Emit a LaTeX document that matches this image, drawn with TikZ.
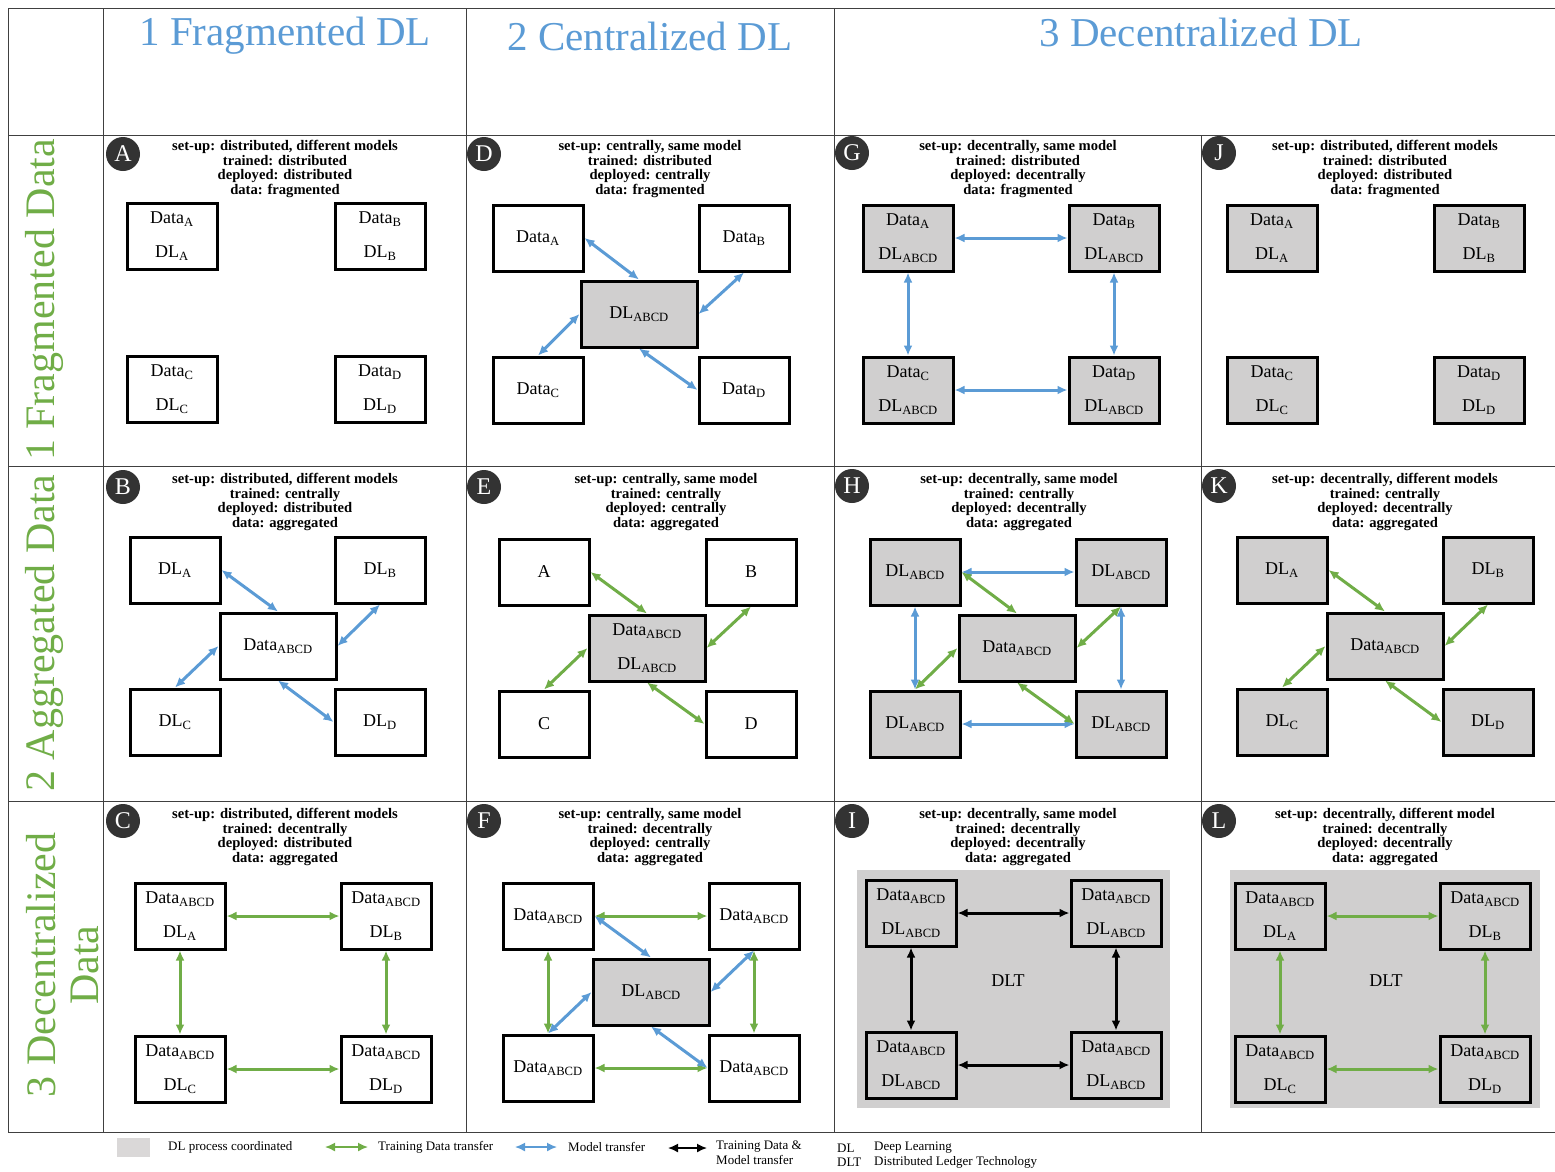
\documentclass[tikz,border=0pt]{standalone}
\usepackage{fontspec}
\setmainfont{Liberation Serif}
\usetikzlibrary{arrows.meta,positioning,calc}
\definecolor{hdrblue}{RGB}{91,155,213}
\definecolor{rowgreen}{RGB}{112,173,71}
\definecolor{boxgray}{RGB}{208,207,207}
\definecolor{tagdark}{RGB}{51,51,51}
\newcommand{\sbs}[1]{\textsubscript{#1}}
\tikzset{grid/.style={black!75,line width=1pt},
hdr/.style={text=hdrblue,font=\fontsize{41}{44}\selectfont,inner sep=0pt},
rowlab/.style={text=rowgreen,font=\fontsize{42}{43}\selectfont,rotate=90,inner sep=0pt,align=center},
desc/.style={anchor=north,font=\bfseries\fontsize{14.6}{14.7}\selectfont,align=center,inner sep=0pt},
tag/.style={circle,fill=tagdark,text=white,minimum size=34pt,inner sep=0pt,font=\fontsize{24}{24}\selectfont},
box/.style={draw,line width=3pt,fill=white,minimum width=90pt,minimum height=66pt,align=center,inner sep=0pt,font=\fontsize{18}{34}\selectfont},
graybox/.style={box,fill=boxgray},
bigbox/.style={box,minimum width=116pt},
biggray/.style={graybox,minimum width=116pt},
dlt/.style={fill=boxgray,draw=none},
mtr/.style={draw=hdrblue,line width=3pt,{Latex[length=10pt,width=9pt]}-{Latex[length=10pt,width=9pt]}},
dtr/.style={draw=rowgreen,line width=3pt,{Latex[length=10pt,width=9pt]}-{Latex[length=10pt,width=9pt]}},
btr/.style={draw=black,line width=3pt,{Latex[length=10pt,width=9pt]}-{Latex[length=10pt,width=9pt]}},
legtxt/.style={anchor=west,inner sep=0pt,font=\fontsize{13}{15}\selectfont,align=left}}

\begin{document}
\begin{tikzpicture}[x=1pt,y=-1pt]
\useasboundingbox (0,0) rectangle (1555,1171);

% Table
\draw[grid] (8,8) -- (1555,8);
\foreach \y in {135,466,801,1132} \draw[grid] (8,\y) -- (1555,\y);
\foreach \x in {8,103,466,834} \draw[grid] (\x,8) -- (\x,1132);
\draw[grid] (1201,135) -- (1201,1132);

% Headers
\node[hdr] (h1) at (285,36) {1 Fragmented DL};
\node[hdr] (h2) at (650,36) {2 Centralized DL};
\node[hdr] (h3) at (1201,32) {3 Decentralized DL};
\node[rowlab] (r1) at (44,300) {1 Fragmented Data};
\node[rowlab] (r2) at (44,633) {2 Aggregated Data};
\node[rowlab] (r3) at (63,965) {3 Decentralized\\Data};

% Tags
\node[tag] (pA) at (123,154) {A};
\node[tag] (pD) at (484,154) {D};
\node[tag] (pG) at (852,153) {G};
\node[tag] (pJ) at (1219,153) {J};
\node[tag] (pB) at (123,487) {B};
\node[tag] (pE) at (484,487) {E};
\node[tag] (pH) at (852,486) {H};
\node[tag] (pK) at (1219,486) {K};
\node[tag] (pC) at (123,821) {C};
\node[tag] (pF) at (484,821) {F};
\node[tag] (pI) at (852,821) {I};
\node[tag] (pL) at (1219,821) {L};

% Descriptions
\node[desc] (tA) at (285,140) {set-up: distributed, different models\\trained: distributed\\deployed: distributed\\data: fragmented};
\node[desc] (tD) at (650,140) {set-up: centrally, same model\\trained: distributed\\deployed: centrally\\data: fragmented};
\node[desc] (tG) at (1018,140) {set-up: decentrally, same model\\trained: distributed\\deployed: decentrally\\data: fragmented};
\node[desc] (tJ) at (1385,140) {set-up: distributed, different models\\trained: distributed\\deployed: distributed\\data: fragmented};
\node[desc] (tB) at (285,473) {set-up: distributed, different models\\trained: centrally\\deployed: distributed\\data: aggregated};
\node[desc] (tE) at (666,473) {set-up: centrally, same model\\trained: centrally\\deployed: centrally\\data: aggregated};
\node[desc] (tH) at (1019,473) {set-up: decentrally, same model\\trained: centrally\\deployed: decentrally\\data: aggregated};
\node[desc] (tK) at (1385,473) {set-up: decentrally, different models\\trained: centrally\\deployed: decentrally\\data: aggregated};
\node[desc] (tC) at (285,808) {set-up: distributed, different models\\trained: decentrally\\deployed: distributed\\data: aggregated};
\node[desc] (tF) at (650,808) {set-up: centrally, same model\\trained: decentrally\\deployed: centrally\\data: aggregated};
\node[desc] (tI) at (1018,808) {set-up: decentrally, same model\\trained: decentrally\\deployed: decentrally\\data: aggregated};
\node[desc] (tL) at (1385,808) {set-up: decentrally, different model\\trained: decentrally\\deployed: decentrally\\data: aggregated};

% A: fragmented DL, fragmented data
\node[box] (aA) at (172,236) {Data\sbs{A}\\DL\sbs{A}};
\node[box] (aB) at (380,236) {Data\sbs{B}\\DL\sbs{B}};
\node[box] (aC) at (172,389) {Data\sbs{C}\\DL\sbs{C}};
\node[box] (aD) at (380,389) {Data\sbs{D}\\DL\sbs{D}};

% D
\node[box] (dA) at (538,238) {Data\sbs{A}};
\node[box] (dB) at (744,238) {Data\sbs{B}};
\node[box] (dC) at (538,390) {Data\sbs{C}};
\node[box] (dD) at (744,390) {Data\sbs{D}};
\node[biggray] (dM) at (639,314) {DL\sbs{ABCD}};
\draw[mtr] (dA.east) -- (dM.north);
\draw[mtr] (dB.south) -- (dM.east);
\draw[mtr] (dC.north) -- (dM.west);
\draw[mtr] (dM.south) -- (dD.west);

% G
\node[graybox] (gA) at (908,238) {Data\sbs{A}\\DL\sbs{ABCD}};
\node[graybox] (gB) at (1114,238) {Data\sbs{B}\\DL\sbs{ABCD}};
\node[graybox] (gC) at (908,390) {Data\sbs{C}\\DL\sbs{ABCD}};
\node[graybox] (gD) at (1114,390) {Data\sbs{D}\\DL\sbs{ABCD}};
\draw[mtr] (gA) -- (gB);
\draw[mtr] (gC) -- (gD);
\draw[mtr] (gA) -- (gC);
\draw[mtr] (gB) -- (gD);

% J
\node[graybox] (jA) at (1272,238) {Data\sbs{A}\\DL\sbs{A}};
\node[graybox] (jB) at (1479,238) {Data\sbs{B}\\DL\sbs{B}};
\node[graybox] (jC) at (1272,390) {Data\sbs{C}\\DL\sbs{C}};
\node[graybox] (jD) at (1479,390) {Data\sbs{D}\\DL\sbs{D}};

% B
\node[box] (bA) at (175,570) {DL\sbs{A}};
\node[box] (bB) at (380,570) {DL\sbs{B}};
\node[box] (bC) at (175,722) {DL\sbs{C}};
\node[box] (bD) at (380,722) {DL\sbs{D}};
\node[bigbox] (bM) at (278,646) {Data\sbs{ABCD}};
\draw[mtr] (bA.east) -- (bM.north);
\draw[mtr] (bB.south) -- (bM.east);
\draw[mtr] (bC.north) -- (bM.west);
\draw[mtr] (bM.south) -- (bD.west);

% E
\node[box] (eA) at (544,572) {A};
\node[box] (eB) at (751,572) {B};
\node[box] (eC) at (544,724) {C};
\node[box] (eD) at (751,724) {D};
\node[biggray] (eM) at (647,648) {Data\sbs{ABCD}\\DL\sbs{ABCD}};
\draw[dtr] (eA.east) -- (eM.north);
\draw[dtr] (eB.south) -- (eM.east);
\draw[dtr] (eC.north) -- (eM.west);
\draw[dtr] (eM.south) -- (eD.west);

% H
\node[graybox] (hA) at (915,572) {DL\sbs{ABCD}};
\node[graybox] (hB) at (1121,572) {DL\sbs{ABCD}};
\node[graybox] (hC) at (915,724) {DL\sbs{ABCD}};
\node[graybox] (hD) at (1121,724) {DL\sbs{ABCD}};
\node[biggray] (hM) at (1017,648) {Data\sbs{ABCD}};
\draw[mtr] (hA) -- (hB);
\draw[mtr] (hC) -- (hD);
\draw[mtr] (hA) -- (hC);
\draw[mtr] (hB) -- (hD);
\draw[dtr] (hA.east) -- (hM.north);
\draw[dtr] (hB.south) -- (hM.east);
\draw[dtr] (hC.north) -- (hM.west);
\draw[dtr] (hM.south) -- (hD.west);

% K
\node[graybox] (kA) at (1282,570) {DL\sbs{A}};
\node[graybox] (kB) at (1488,570) {DL\sbs{B}};
\node[graybox] (kC) at (1282,722) {DL\sbs{C}};
\node[graybox] (kD) at (1488,722) {DL\sbs{D}};
\node[biggray] (kM) at (1385,646) {Data\sbs{ABCD}};
\draw[dtr] (kA.east) -- (kM.north);
\draw[dtr] (kB.south) -- (kM.east);
\draw[dtr] (kC.north) -- (kM.west);
\draw[dtr] (kM.south) -- (kD.west);

% C
\node[box] (cA) at (180,916) {Data\sbs{ABCD}\\DL\sbs{A}};
\node[box] (cB) at (386,916) {Data\sbs{ABCD}\\DL\sbs{B}};
\node[box] (cC) at (180,1069) {Data\sbs{ABCD}\\DL\sbs{C}};
\node[box] (cD) at (386,1069) {Data\sbs{ABCD}\\DL\sbs{D}};
\draw[dtr] (cA) -- (cB);
\draw[dtr] (cC) -- (cD);
\draw[dtr] (cA) -- (cC);
\draw[dtr] (cB) -- (cD);

% F
\node[box] (fA) at (548,916) {Data\sbs{ABCD}};
\node[box] (fB) at (754,916) {Data\sbs{ABCD}};
\node[box] (fC) at (548,1068) {Data\sbs{ABCD}};
\node[box] (fD) at (754,1068) {Data\sbs{ABCD}};
\node[biggray] (fM) at (651,992) {DL\sbs{ABCD}};
\draw[dtr] (fA) -- (fB);
\draw[dtr] (fC) -- (fD);
\draw[dtr] (fA) -- (fC);
\draw[dtr] (fB) -- (fD);
\draw[mtr] (fA.east) -- (fM.north);
\draw[mtr] (fB.south) -- (fM.east);
\draw[mtr] (fC.north) -- (fM.west);
\draw[mtr] (fM.south) -- (fD.west);

% I
\fill[dlt] (857,870) rectangle (1170,1108);
\node[graybox] (iA) at (911,913) {Data\sbs{ABCD}\\DL\sbs{ABCD}};
\node[graybox] (iB) at (1116,913) {Data\sbs{ABCD}\\DL\sbs{ABCD}};
\node[graybox] (iC) at (911,1065) {Data\sbs{ABCD}\\DL\sbs{ABCD}};
\node[graybox] (iD) at (1116,1065) {Data\sbs{ABCD}\\DL\sbs{ABCD}};
\node[font=\fontsize{18}{20}\selectfont] (iT) at (1008,981) {DLT};
\draw[btr] (iA) -- (iB);
\draw[btr] (iC) -- (iD);
\draw[btr] (iA) -- (iC);
\draw[btr] (iB) -- (iD);

% L
\fill[dlt] (1230,870) rectangle (1540,1108);
\node[graybox] (lA) at (1280,916) {Data\sbs{ABCD}\\DL\sbs{A}};
\node[graybox] (lB) at (1485,916) {Data\sbs{ABCD}\\DL\sbs{B}};
\node[graybox] (lC) at (1280,1069) {Data\sbs{ABCD}\\DL\sbs{C}};
\node[graybox] (lD) at (1485,1069) {Data\sbs{ABCD}\\DL\sbs{D}};
\node[font=\fontsize{18}{20}\selectfont] (lT) at (1386,981) {DLT};
\draw[dtr] (lA) -- (lB);
\draw[dtr] (lC) -- (lD);
\draw[dtr] (lA) -- (lC);
\draw[dtr] (lB) -- (lD);

% Legend
\fill[boxgray!80] (117,1138) rectangle (150,1157);
\node[legtxt] (g1) at (168,1147) {DL process coordinated};
\coordinate (g2s) at (325,1147); \coordinate (g2e) at (368,1147);
\draw[dtr,line width=1.6pt] (g2s) -- (g2e);
\node[legtxt] (g2) at (378,1147) {Training Data transfer};
\coordinate (g3s) at (515,1147); \coordinate (g3e) at (557,1147);
\draw[mtr,line width=1.6pt] (g3s) -- (g3e);
\node[legtxt] (g3) at (568,1147) {Model transfer};
\coordinate (g4s) at (668,1148); \coordinate (g4e) at (707,1148);
\draw[btr,line width=1.6pt] (g4s) -- (g4e);
\node[legtxt,anchor=north west] (g4) at (716,1141) {Training Data \&\\Model transfer};
\node[legtxt] (g5) at (837,1148) {DL};
\node[legtxt] (g6) at (874,1148) {Deep Learning};
\node[legtxt] (g7) at (837,1162) {DLT};
\node[legtxt] (g8) at (874,1162) {Distributed Ledger Technology};

\end{tikzpicture}
\end{document}
